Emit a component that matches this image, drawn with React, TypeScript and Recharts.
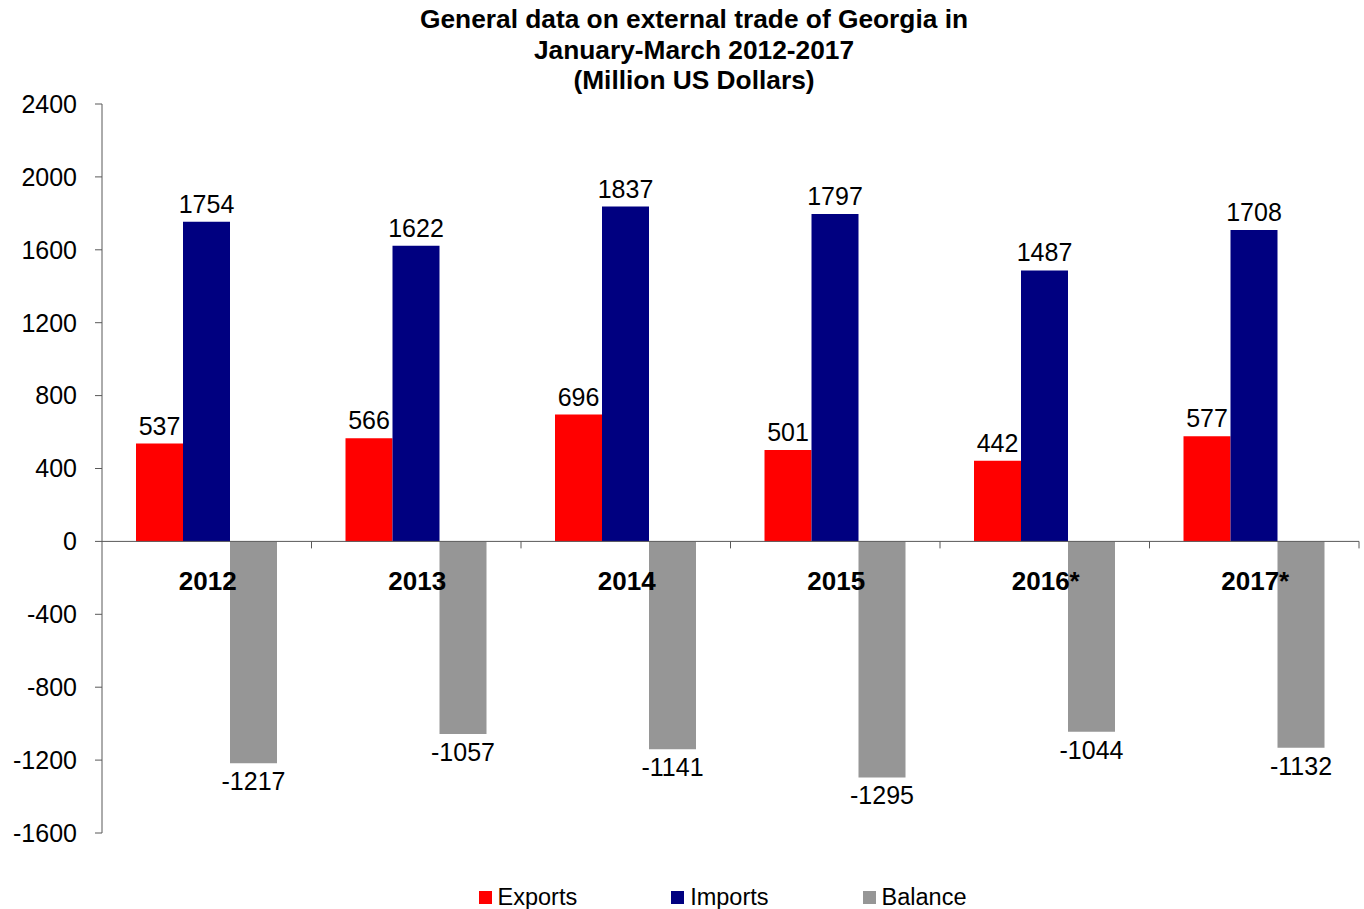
import React from 'react';
import { BarChart, Bar, XAxis, YAxis, ReferenceLine, Legend, LabelList } from 'recharts';

const years = ['2012', '2013', '2014', '2015', '2016*', '2017*'];
const exportsValues = [537, 566, 696, 501, 442, 577];
const importsValues = [1754, 1622, 1837, 1797, 1487, 1708];
const balanceValues = [-1217, -1057, -1141, -1295, -1044, -1132];
const seriesNames = ['Exports', 'Imports', 'Balance'];
const yTicks = [-1600, -1200, -800, -400, 0, 400, 800, 1200, 1600, 2000, 2400];
const titleLines = [
  'General data on external trade of Georgia in',
  'January-March 2012-2017',
  '(Million US Dollars)',
];

const data = years.map((year, i) => ({
  year,
  exports: exportsValues[i],
  imports: importsValues[i],
  balance: balanceValues[i],
}));

const W = 1364;
const H = 909;
const LEGEND_H = 46;
const XAXIS_H = 30;
const margin = { top: 104, right: 5, bottom: 0, left: 0 };
const PLOT_H = H - margin.top - margin.bottom - LEGEND_H - XAXIS_H;
const Y_MIN = -1600;
const Y_MAX = 2400;
const FONT = '"Liberation Sans", Arial, sans-serif';
const AXIS = '#595959';

// category names sit just under the zero line, not at the bottom of the plot
const CategoryTick = (props: any) => {
  const { x, y, payload } = props;
  const zeroY = y - (PLOT_H * (0 - Y_MIN)) / (Y_MAX - Y_MIN);
  const half = payload && payload.offset ? payload.offset : 0;
  return (
    <g>
      <line x1={x + half} x2={x + half} y1={zeroY} y2={zeroY + 7} stroke={AXIS} />
      <text x={x + 1} y={zeroY + 49} textAnchor="middle" fontWeight="bold" fontSize={26} fontFamily={FONT} fill="#000">
        {payload.value}
      </text>
    </g>
  );
};

const ValueLabel = (props: any) => {
  const { x, y, width, height, value } = props;
  const top = Math.min(y, y + height);
  const bottom = Math.max(y, y + height);
  const ty = value >= 0 ? top - 9 : bottom + 27;
  return (
    <text x={x + width / 2} y={ty} textAnchor="middle" fontSize={25} fontFamily={FONT} fill="#000">
      {value}
    </text>
  );
};

const LegendContent = ({ payload }: any) => {
  const items = [...(payload || [])].sort(
    (a: any, b: any) => seriesNames.indexOf(a.value) - seriesNames.indexOf(b.value)
  );
  return (
    <div
      style={{
        height: LEGEND_H,
        display: 'flex',
        alignItems: 'flex-end',
        justifyContent: 'center',
        gap: 94,
        paddingLeft: 86,
        fontFamily: FONT,
        fontSize: 23.5,
        lineHeight: '24px',
        color: '#000',
      }}
    >
      {items.map((entry: any) => (
        <div key={entry.value} style={{ display: 'flex', alignItems: 'center' }}>
          <span style={{ width: 13, height: 13, background: entry.color, marginRight: 6, display: 'inline-block' }} />
          {entry.value}
        </div>
      ))}
    </div>
  );
};

export default function App() {
  return (
    <div style={{ position: 'absolute', left: 0, top: 0, width: W, height: H, background: '#fff' }}>
      <div
        style={{
          position: 'absolute',
          top: 4,
          left: 0,
          width: W,
          paddingLeft: 24,
          boxSizing: 'border-box',
          textAlign: 'center',
          fontFamily: FONT,
          fontWeight: 'bold',
          fontSize: 26.3,
          lineHeight: '30.5px',
          color: '#000',
        }}
      >
        {titleLines.map((line) => (
          <div key={line}>{line}</div>
        ))}
      </div>
      <BarChart width={W} height={H} data={data} margin={margin} barSize={47} barGap={0}>
        <XAxis
          dataKey="year"
          height={XAXIS_H}
          axisLine={false}
          tickLine={false}
          tickSize={0}
          tickMargin={0}
          interval={0}
          tick={CategoryTick}
        />
        <YAxis
          width={102}
          domain={[Y_MIN, Y_MAX]}
          ticks={yTicks}
          interval={0}
          allowDataOverflow
          tickSize={7}
          tickMargin={18}
          axisLine={{ stroke: AXIS }}
          tickLine={{ stroke: AXIS }}
          tick={{ fontSize: 25, fill: '#000', fontFamily: FONT }}
        />
        <Legend verticalAlign="bottom" content={LegendContent} />
        <Bar dataKey="exports" name="Exports" fill="#ff0000" isAnimationActive={false}>
          <LabelList dataKey="exports" content={ValueLabel} />
        </Bar>
        <Bar dataKey="imports" name="Imports" fill="#000080" isAnimationActive={false}>
          <LabelList dataKey="imports" content={ValueLabel} />
        </Bar>
        <Bar dataKey="balance" name="Balance" fill="#969696" isAnimationActive={false}>
          <LabelList dataKey="balance" content={ValueLabel} />
        </Bar>
        <ReferenceLine y={0} stroke={AXIS} />
      </BarChart>
    </div>
  );
}
